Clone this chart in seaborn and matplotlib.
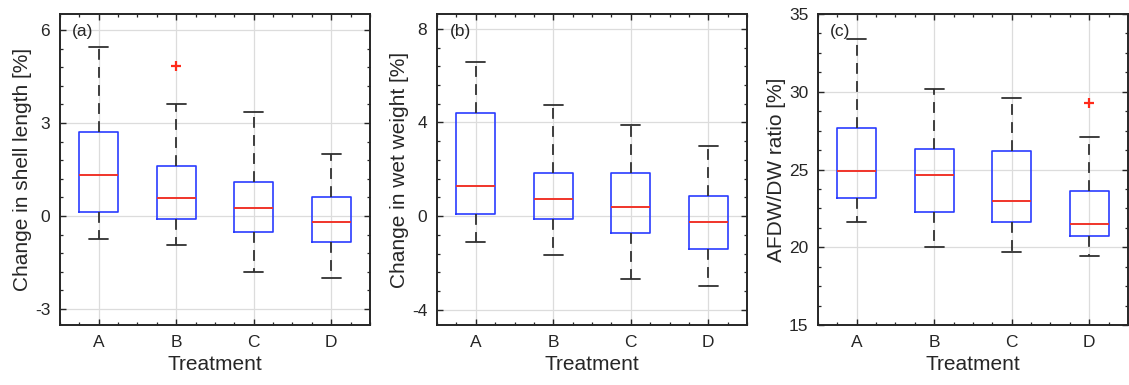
import numpy as np
import pandas as pd
import matplotlib
matplotlib.use("Agg")
import matplotlib.pyplot as plt
from matplotlib.ticker import AutoMinorLocator, MultipleLocator
import seaborn as sns

# Treatment groups
treatments = ["A", "B", "C", "D"]

# (a) Change in shell length [%] -- five-number summaries per treatment
shell_low = [-0.74, -0.95, -1.81, -1.99]
shell_q1 = [0.14, -0.09, -0.52, -0.84]
shell_med = [1.31, 0.58, 0.26, -0.19]
shell_q3 = [2.71, 1.60, 1.10, 0.61]
shell_high = [5.46, 3.61, 3.37, 2.00]
shell_out = [None, 4.85, None, None]

# (b) Change in wet weight [%]
wet_low = [-1.12, -1.65, -2.69, -3.00]
wet_q1 = [0.11, -0.13, -0.70, -1.41]
wet_med = [1.30, 0.71, 0.38, -0.27]
wet_q3 = [4.41, 1.82, 1.84, 0.84]
wet_high = [6.59, 4.74, 3.90, 3.00]
wet_out = [None, None, None, None]

# (c) AFDW/DW ratio [%]
afdw_low = [21.60, 20.02, 19.71, 19.44]
afdw_q1 = [23.17, 22.25, 21.60, 20.72]
afdw_med = [24.90, 24.65, 22.97, 21.48]
afdw_q3 = [27.65, 26.30, 26.21, 23.62]
afdw_high = [33.39, 30.20, 29.62, 27.11]
afdw_out = [None, None, None, 29.30]


def samples(low, q1, med, q3, high, out):
    """Nine ordered values whose quartiles, whiskers and flier reproduce the summary."""
    if out is None:
        return [low, q1, q1, med, med, med, q3, q3, high]
    return [low, q1, q1, med, med, q3, q3, high, out]


def frame(low, q1, med, q3, high, out):
    rows = []
    for i, t in enumerate(treatments):
        for v in samples(low[i], q1[i], med[i], q3[i], high[i], out[i]):
            rows.append({"Treatment": t, "value": v})
    return pd.DataFrame(rows)


panels = [
    dict(df=frame(shell_low, shell_q1, shell_med, shell_q3, shell_high, shell_out),
         ylabel="Change in shell length [%]", tag="(a)", ylim=(-3.52, 6.52),
         major=3, ndiv=5, whis=1.5),
    dict(df=frame(wet_low, wet_q1, wet_med, wet_q3, wet_high, wet_out),
         ylabel="Change in wet weight [%]", tag="(b)", ylim=(-4.65, 8.63),
         major=4, ndiv=5, whis=np.inf),
    dict(df=frame(afdw_low, afdw_q1, afdw_med, afdw_q3, afdw_high, afdw_out),
         ylabel="AFDW/DW ratio [%]", tag="(c)", ylim=(15, 35),
         major=5, ndiv=4, whis=1.5),
]

sns.set_theme(style="white")
plt.rcParams["font.family"] = ["Liberation Sans", "DejaVu Sans"]
plt.rcParams["axes.unicode_minus"] = False

fig = plt.figure(figsize=(11.29, 3.85), dpi=100)
lefts = [0.0531, 0.3871, 0.7245]
width, bottom, height = 0.2746, 0.1558, 0.8078

text_col = "#262626"
box_col = "#2a3cff"
med_col = "#f0342a"

for left, p in zip(lefts, panels):
    ax = fig.add_axes([left, bottom, width, height])
    sns.boxplot(
        data=p["df"], x="Treatment", y="value", order=treatments, ax=ax,
        fill=False, width=0.5, whis=p["whis"], color=box_col, linewidth=1.2,
        boxprops=dict(color=box_col, linewidth=1.2),
        medianprops=dict(color=med_col, linewidth=1.4),
        whiskerprops=dict(color="#303030", linewidth=1.3, linestyle=(0, (6, 4))),
        capprops=dict(color="#303030", linewidth=1.3),
        flierprops=dict(marker="+", markeredgecolor="#ff2a1a", markerfacecolor="none",
                        markersize=7, markeredgewidth=1.6),
    )
    ax.set_xlim(-0.5, 3.5)
    ax.set_ylim(*p["ylim"])
    ax.yaxis.set_major_locator(MultipleLocator(p["major"]))
    ax.yaxis.set_minor_locator(AutoMinorLocator(p["ndiv"]))
    ax.xaxis.set_minor_locator(AutoMinorLocator(4))
    ax.set_axisbelow(True)
    ax.grid(True, which="major", color="#dcdcdc", linewidth=0.9)
    ax.tick_params(which="both", direction="in", top=True, right=True,
                   bottom=True, left=True, colors=text_col, labelcolor=text_col)
    ax.tick_params(which="major", length=4, width=1.0, labelsize=12.5, pad=7)
    ax.tick_params(which="minor", length=2.5, width=0.9)
    for s in ax.spines.values():
        s.set_visible(True)
        s.set_color(text_col)
        s.set_linewidth(1.4)
    ax.set_xlabel("Treatment", fontsize=15, color=text_col, labelpad=4)
    ax.set_ylabel(p["ylabel"], fontsize=15, color=text_col, labelpad=2)
    ax.text(0.04, 0.945, p["tag"], transform=ax.transAxes, fontsize=12.5,
            color=text_col, ha="left", va="center")

fig.savefig("out.png", dpi=100)
